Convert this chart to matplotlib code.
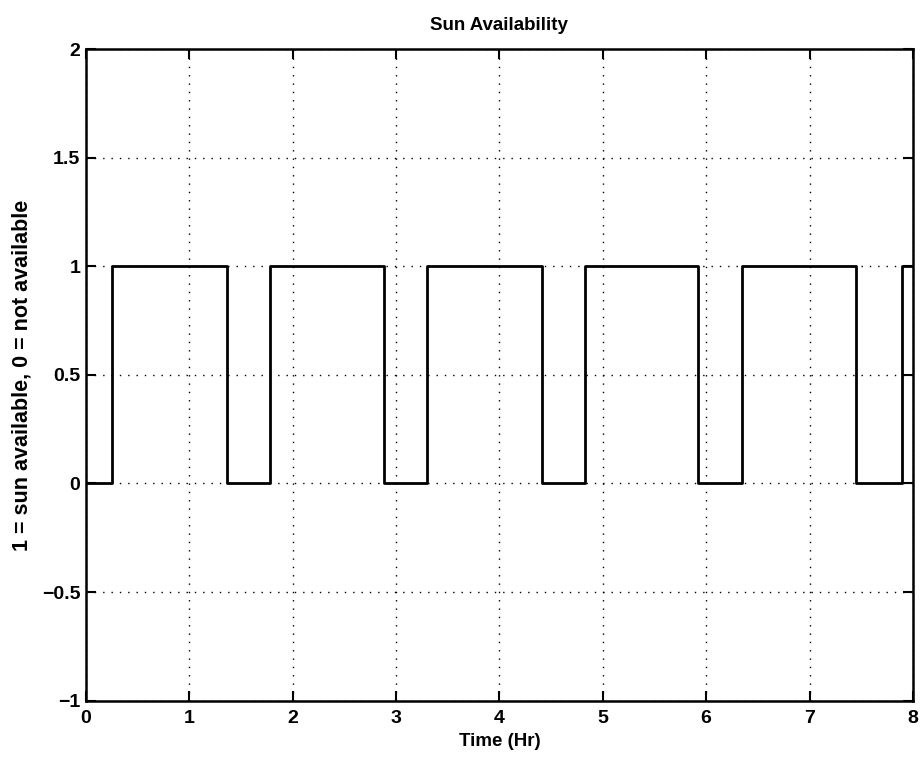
import matplotlib
matplotlib.use("Agg")
import matplotlib.pyplot as plt

plt.rcParams['font.family'] = ['Liberation Sans', 'DejaVu Sans']
plt.rcParams['font.weight'] = 'bold'

# switching times (hr) and sun state after each switch
switch_times = [0, 0.25, 1.36, 1.78, 2.88, 3.30, 4.41, 4.83, 5.92, 6.35, 7.45, 7.89, 8.0]
sun_state = [0, 1, 0, 1, 0, 1, 0, 1, 0, 1, 0, 1, 1]

xticks = [0, 1, 2, 3, 4, 5, 6, 7, 8]
yticks = [-1, -0.5, 0, 0.5, 1, 1.5, 2]
ytick_labels = ['\u22121', '\u22120.5', '0', '0.5', '1', '1.5', '2']

fig = plt.figure(figsize=(9.24, 7.59), dpi=100)
ax = fig.add_axes([0.093, 0.077, 0.895, 0.858])

ax.step(switch_times, sun_state, where='post', color='black', lw=2)

ax.set_xlim(0, 8)
ax.set_ylim(-1, 2)
ax.set_xticks(xticks)
ax.set_xticklabels([str(t) for t in xticks])
ax.set_yticks(yticks)
ax.set_yticklabels(ytick_labels)

ax.grid(True, color='black', linestyle=(0, (1, 5)), lw=1)
ax.tick_params(direction='in', length=7, width=1.5, top=True, right=True,
               labelsize=14, pad=4)
ax.tick_params(axis='x', pad=7)
for s in ax.spines.values():
    s.set_linewidth(1.8)

ax.set_title('Sun Availability', fontsize=13.5, pad=14, fontweight='bold')
ax.set_xlabel('Time (Hr)', fontsize=13.5, labelpad=4, fontweight='bold')
ax.set_ylabel('1 = sun available, 0 = not available', fontsize=15.5,
              labelpad=7, fontweight='bold')

plt.savefig('out.png', dpi=100)
